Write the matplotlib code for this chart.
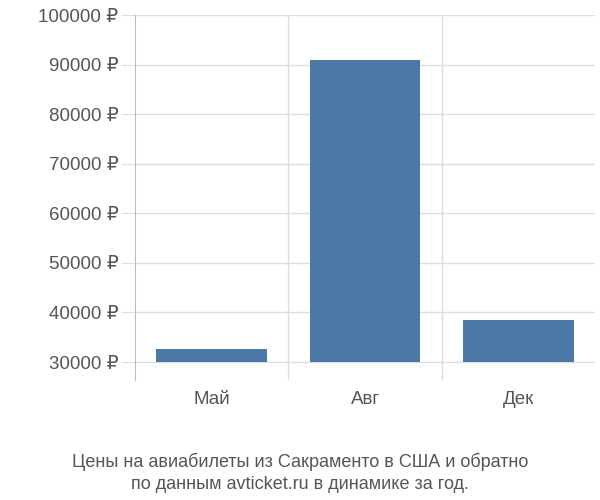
import matplotlib

matplotlib.use("Agg")
import matplotlib.pyplot as plt

months = ["Май", "Авг", "Дек"]
prices = [32700, 91000, 38500]
yticks = [30000, 40000, 50000, 60000, 70000, 80000, 90000, 100000]

plt.rcParams["font.family"] = ["Liberation Sans", "DejaVu Sans"]

fig = plt.figure(figsize=(6, 5), dpi=100)
ax = fig.add_axes([0.225, 0.24, 0.767, 0.73])

x = list(range(len(months)))
base = 30000
ax.bar(x, [p - base for p in prices], bottom=base, width=0.72, color="#4C78A8", zorder=3)

ax.set_xlim(-0.5, len(months) - 0.5)
ax.set_ylim(26370, 100000)
ax.set_yticks(yticks)
ax.set_yticklabels([f"{v} ₽" for v in yticks], fontsize=13.5, color="#555555")
for v in yticks:
    ax.axhline(v, color="#dddddd", linewidth=1, zorder=1)
for b in [0.5, 1.5]:
    ax.axvline(b, color="#dddddd", linewidth=1, zorder=1)
ax.set_xticks(x)
ax.set_xticklabels(months, fontsize=13.5, color="#555555")
ax.tick_params(axis="x", length=0, pad=8)
ax.tick_params(axis="y", length=10, color="#dddddd", pad=2)
for s in ["top", "right", "bottom"]:
    ax.spines[s].set_visible(False)
ax.spines["left"].set_color("#bbbbbb")

fig.text(0.5, 0.055, "Цены на авиабилеты из Сакраменто в США и обратно\nпо данным avticket.ru в динамике за год.",
         ha="center", va="center", fontsize=13, color="#555555", linespacing=1.4)

fig.savefig("out.png", dpi=100)
